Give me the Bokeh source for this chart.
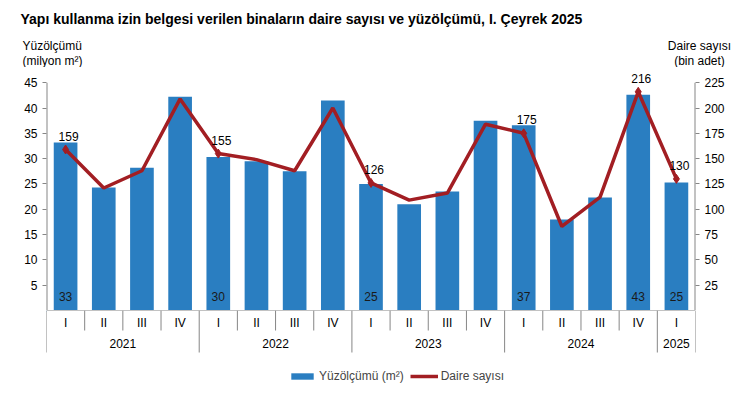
from bokeh.plotting import figure
from bokeh.models import Range1d, LinearAxis, ColumnDataSource, Legend, LegendItem, FixedTicker
from bokeh.layouts import column
from bokeh.embed import file_html
from bokeh.resources import INLINE
from bokeh.core.properties import value

# ---------------- data ----------------
quarters = ["I", "II", "III", "IV", "I", "II", "III", "IV", "I", "II", "III", "IV",
            "I", "II", "III", "IV", "I"]
years = ["2021", "2022", "2023", "2024", "2025"]
year_counts = [4, 4, 4, 4, 1]
area_mn_m2 = [33.2, 24.3, 28.2, 42.2, 30.3, 29.5, 27.5, 41.5, 25.0, 21.0, 23.5, 37.5,
              36.6, 18.0, 22.3, 42.6, 25.3]
dwellings_k = [159, 121, 138, 209, 155, 149, 138, 200, 126, 109, 116, 184,
               175, 83, 112, 216, 130]
labeled_idx = [0, 4, 8, 12, 15, 16]
left_ticks = [5, 10, 15, 20, 25, 30, 35, 40, 45]
right_ticks = [25, 50, 75, 100, 125, 150, 175, 200, 225]
left_max, right_max = 45, 225

title_text = "Yapı kullanma izin belgesi verilen binaların daire sayısı ve yüzölçümü, I. Çeyrek 2025"
left_title = ["Yüzölçümü", "(milyon m²)"]
right_title = ["Daire sayısı", "(bin adet)"]
legend_labels = ["Yüzölçümü (m²)", "Daire sayısı"]

BAR = "#2A7EC1"
LINE = "#A21E23"
AXIS = "#868686"
FONT = "Liberation Sans"

n = len(quarters)
xs = list(range(n))
xr = Range1d(-0.5, n - 0.5)

W = 738
BL, BR = 46, 43
HEAD = 67
HEADROOM = 48 / 45          # extra room above the top tick so labels are not clipped
FRAME_H = 243


def bare(fig):
    fig.axis.visible = False
    fig.grid.visible = False
    fig.outline_line_color = None
    return fig


# ---------------- header ----------------
h = bare(figure(width=W, height=HEAD, x_range=Range1d(0, W), y_range=Range1d(HEAD, 0),
                output_backend="svg", toolbar_location=None, min_border=0))
h.frame_align = False
h.text(x=[20], y=[18], text=[title_text], text_baseline="middle", text_align="left",
       text_font=value(FONT), text_font_size="14px", text_font_style="bold",
       text_color="#000000")
h.text(x=[22, 22], y=[45, 60], text=left_title, text_baseline="middle", text_align="left",
       text_font=value(FONT), text_font_size="12px", text_color="#000000")
h.text(x=[699, 699], y=[45, 60], text=right_title, text_baseline="middle",
       text_align="center", text_font=value(FONT), text_font_size="12px",
       text_color="#000000")

# ---------------- main plot ----------------
p = figure(width=W, height=FRAME_H, x_range=xr, y_range=Range1d(0, left_max * HEADROOM),
           output_backend="svg", toolbar_location=None,
           min_border_left=BL, min_border_right=BR, min_border_top=0, min_border_bottom=0)
p.xaxis.visible = False
p.grid.visible = False
p.outline_line_color = None
p.extra_y_ranges = {"d": Range1d(0, right_max * HEADROOM)}

ya = p.yaxis[0]
ya.ticker = FixedTicker(ticks=left_ticks)
ra = LinearAxis(y_range_name="d", ticker=FixedTicker(ticks=right_ticks))
p.add_layout(ra, "right")
for ax in (ya, ra):
    ax.axis_line_color = None
    ax.major_tick_line_color = AXIS
    ax.minor_tick_line_color = None
    ax.major_tick_out = 4
    ax.major_tick_in = 0
    ax.major_label_standoff = 5
    ax.major_label_text_font = FONT
    ax.major_label_text_font_size = "12px"
    ax.major_label_text_color = "#000000"

# axis lines ending at the top tick
p.segment(x0=[-0.5], y0=[0], x1=[-0.5], y1=[left_max], line_color=AXIS, line_width=2)
p.segment(x0=[n - 0.5], y0=[0], x1=[n - 0.5], y1=[right_max], line_color=AXIS,
          line_width=2, y_range_name="d")

src = ColumnDataSource(dict(x=xs, a=area_mn_m2, d=dwellings_k))
p.vbar(x="x", top="a", width=0.62, bottom=0, source=src, fill_color=BAR, line_color=None)
p.line(x="x", y="d", source=src, line_color=LINE, line_width=3.5, y_range_name="d")

lab = ColumnDataSource(dict(
    x=[xs[i] for i in labeled_idx],
    d=[dwellings_k[i] for i in labeled_idx],
    dt=[str(dwellings_k[i]) for i in labeled_idx],
    at=[str(round(area_mn_m2[i])) for i in labeled_idx],
    zero=[0] * len(labeled_idx),
))
p.scatter(x="x", y="d", source=lab, marker="diamond", size=9, fill_color=LINE,
          line_color=LINE, y_range_name="d")
p.text(x="x", y="d", text="dt", source=lab, y_range_name="d", text_align="center",
       text_baseline="bottom", y_offset=-9, x_offset=3, text_font=value(FONT),
       text_font_size="12px", text_color="#000000")
p.text(x="x", y="zero", text="at", source=lab, text_align="center",
       text_baseline="middle", y_offset=-14, text_font=value(FONT),
       text_font_size="12px", text_color="#1a1a1a")

# ---------------- bottom category axis + legend ----------------
q = bare(figure(width=W, height=79, x_range=xr, y_range=Range1d(79, 0),
                output_backend="svg", toolbar_location=None,
                min_border_left=BL, min_border_right=BR, min_border_top=0,
                min_border_bottom=0))
q.segment(x0=[-0.5], y0=[0], x1=[n - 0.5], y1=[0], line_color=AXIS, line_width=1)
bounds = [i - 0.5 for i in range(n + 1)]
year_bounds = [-0.5]
c = -0.5
for cnt in year_counts:
    c += cnt
    year_bounds.append(c)
short_b = [b for b in bounds if b not in year_bounds]
q.segment(x0=short_b, y0=[0] * len(short_b), x1=short_b, y1=[20] * len(short_b),
          line_color=AXIS, line_width=1)
q.segment(x0=year_bounds, y0=[0] * len(year_bounds), x1=year_bounds,
          y1=[42] * len(year_bounds), line_color=AXIS, line_width=1)
q.text(x=xs, y=[12] * n, text=quarters, text_align="center", text_baseline="middle",
       text_font=value(FONT), text_font_size="12px", text_color="#000000")
year_centers = [(year_bounds[i] + year_bounds[i + 1]) / 2 for i in range(len(years))]
q.text(x=year_centers, y=[33] * len(years), text=years, text_align="center",
       text_baseline="middle", text_font=value(FONT), text_font_size="12px",
       text_color="#000000")

r1 = q.vbar(x=[-100], top=[1], width=0.5, fill_color=BAR, line_color=None)
r2 = q.line(x=[-100, -99], y=[1, 1], line_color=LINE, line_width=3.5)
leg = Legend(items=[LegendItem(label=legend_labels[0], renderers=[r1]),
                    LegendItem(label=legend_labels[1], renderers=[r2])],
             orientation="horizontal", location=(242, 6), glyph_width=28, glyph_height=8,
             label_text_font=FONT, label_text_font_size="12px", label_standoff=3,
             spacing=6, padding=2, margin=0, border_line_color=None,
             background_fill_alpha=0, label_height=12)
q.add_layout(leg)

layout = column(h, p, q, spacing=0)
open("out.html", "w").write(file_html(layout, INLINE))
